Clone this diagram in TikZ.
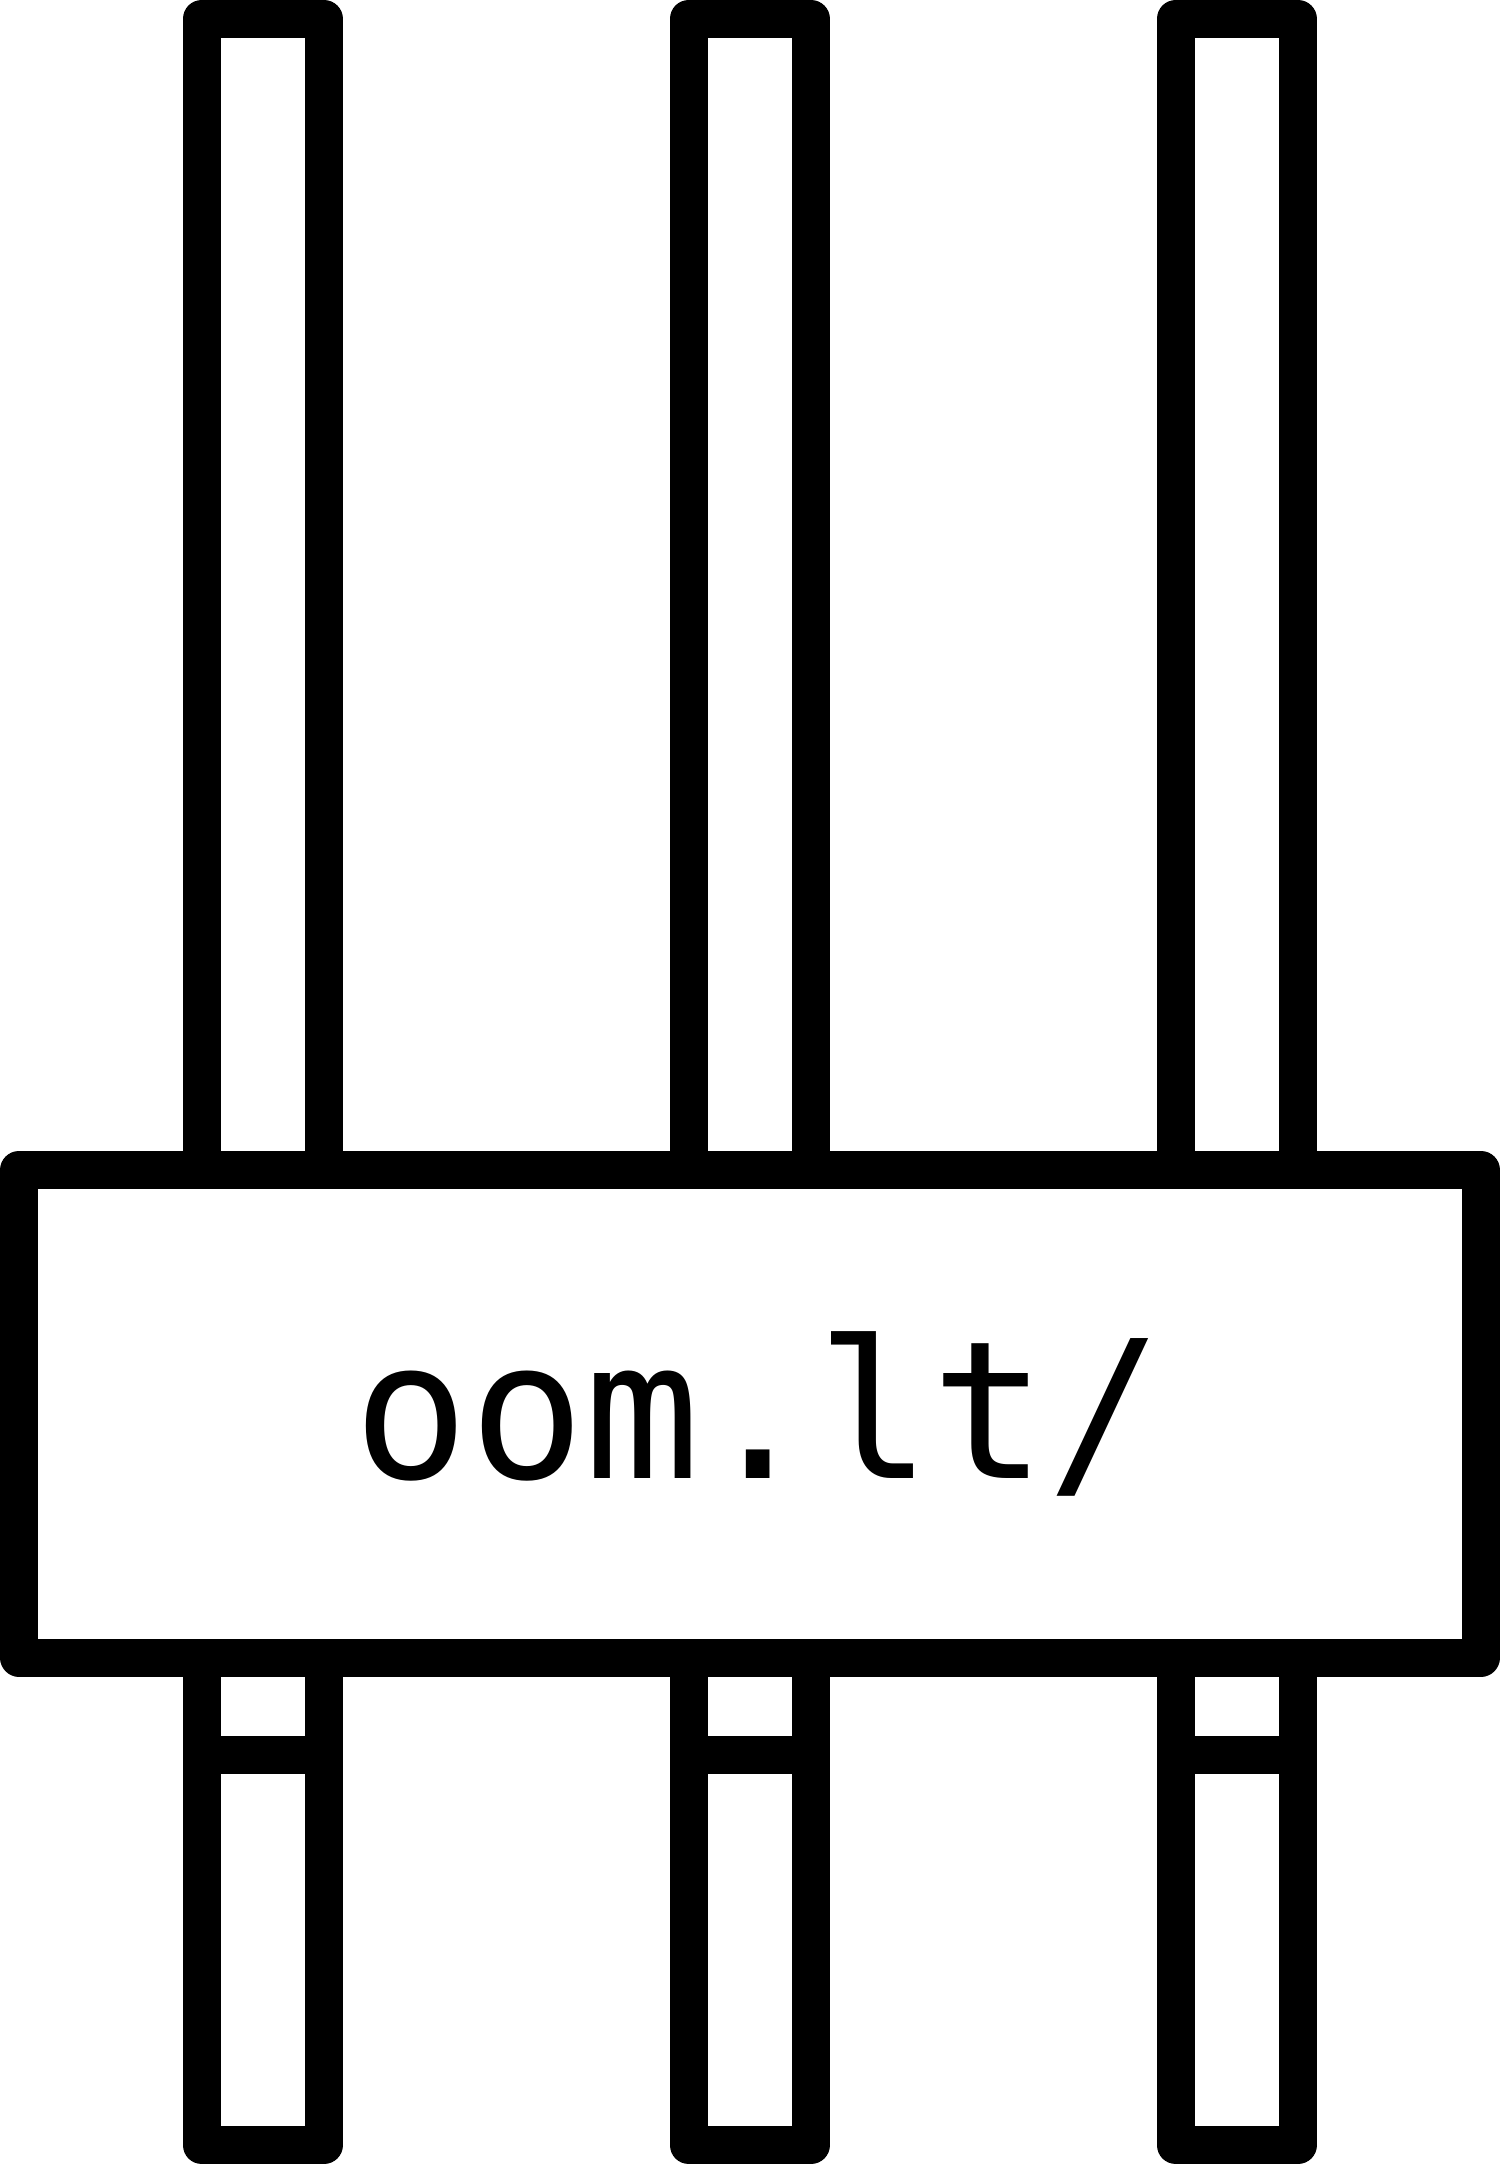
\documentclass[tikz,border=0pt]{standalone}
\usepackage{fontspec}
\setmonofont{DejaVu Sans Mono}
\tikzset{
  px/.style={x=0.5pt,y=-0.5pt},
  outline/.style={draw=black,fill=white,line width=19pt,line join=round},
  urltext/.style={inner sep=0pt,outer sep=0pt,anchor=base,text=black,font=\ttfamily\fontsize{96pt}{96pt}\selectfont}
}
\begin{document}
\begin{tikzpicture}[px]
\useasboundingbox (0,0) rectangle (1500,2164);
\foreach \xa/\xb in {201.5/324,688.5/811,1175.5/1298}{
  \draw[outline] (\xa,19) rectangle (\xb,1170);
  \draw[outline] (\xa,1657.5) rectangle (\xb,1755);
  \draw[outline] (\xa,1755) rectangle (\xb,2145);
}
\draw[outline,fill=none] (19,1170) rectangle (1481,1657.5);
\node[urltext] (label) at (758.3,1478) {oom.lt/};
\end{tikzpicture}
\end{document}
